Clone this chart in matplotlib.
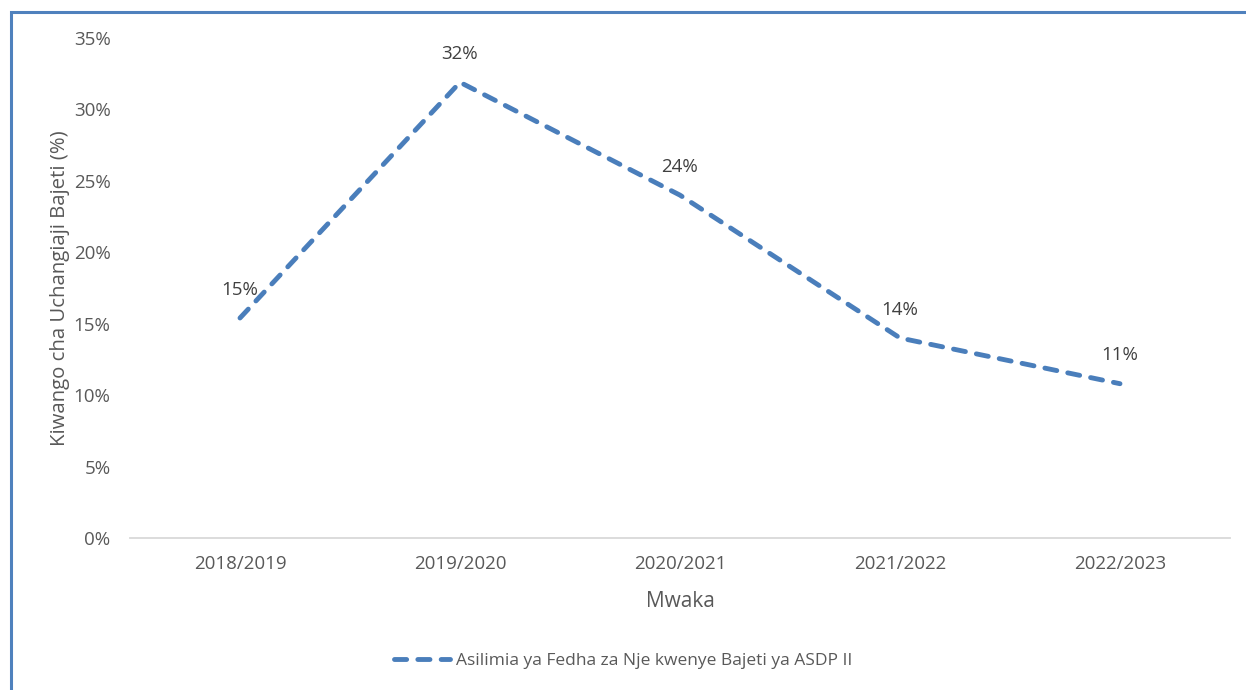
import matplotlib.pyplot as plt
from matplotlib.patches import Rectangle

# data
years = ['2018/2019', '2019/2020', '2020/2021', '2021/2022', '2022/2023']
share = [15.4, 31.9, 24.0, 14.0, 10.8]
share_labels = ['15%', '32%', '24%', '14%', '11%']
y_ticks = [0, 5, 10, 15, 20, 25, 30, 35]

plt.rcParams['font.family'] = ['Open Sans', 'DejaVu Sans']
grey = '#595959'
blue = '#4a7ebb'

fig = plt.figure(figsize=(12.46, 6.9), dpi=100)
ax = fig.add_axes([130 / 1246, 1 - 538 / 690, 1100 / 1246, 500 / 690])

x = list(range(len(years)))
line, = ax.plot(x, share, color=blue, lw=3.5, linestyle=(0, (2.5, 2.3)),
                dash_capstyle='round', solid_capstyle='round',
                label='Asilimia ya Fedha za Nje kwenye Bajeti ya ASDP II')
for xi, v, t in zip(x, share, share_labels):
    ax.annotate(t, (xi, v), xytext=(0, 14), textcoords='offset points',
                ha='center', va='bottom', fontsize=13.5, color='#404040')

ax.set_xlim(-0.5, len(years) - 0.5)
ax.set_ylim(0, 35)
ax.set_xticks(x)
ax.set_xticklabels(years)
ax.set_yticks(y_ticks)
ax.set_yticklabels([f'{t}%' for t in y_ticks])
ax.tick_params(length=0, labelsize=13.5, labelcolor=grey)
ax.tick_params(axis='y', pad=14)
ax.tick_params(axis='x', pad=12)
for s in ['top', 'right', 'left']:
    ax.spines[s].set_visible(False)
ax.spines['bottom'].set_color('#d9d9d9')
ax.spines['bottom'].set_linewidth(1.3)

ax.set_xlabel('Mwaka', fontsize=15, color=grey, labelpad=13)
ax.set_ylabel('Kiwango cha Uchangiaji Bajeti (%)', fontsize=14.7, color=grey, labelpad=3)

fig.legend(handles=[line], loc='center', bbox_to_anchor=(0.5, 1 - 661 / 690),
           frameon=False, fontsize=12.5, labelcolor=grey, handlelength=3.2,
           handletextpad=0.35)

# blue frame around the chart (right and bottom edges fall outside the image)
fig.patches.append(Rectangle((11 / 1246, -0.05), 1.2, 1 - 12 / 690 + 0.05,
                             transform=fig.transFigure, fill=False,
                             edgecolor='#4f81bd', lw=2.2))

plt.savefig('out.png', dpi=100)
